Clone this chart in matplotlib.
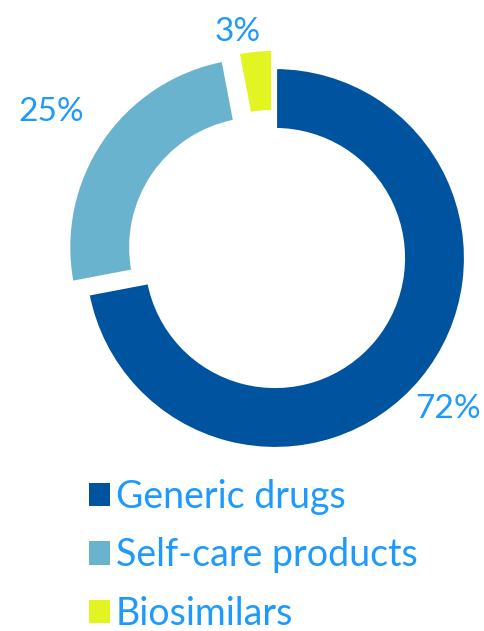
import numpy as np
import matplotlib
matplotlib.use('Agg')
import matplotlib.pyplot as plt
from matplotlib.patches import Patch

categories = ['Generic drugs', 'Self-care products', 'Biosimilars']
shares = [72, 25, 3]
colors = ['#00549F', '#6AB3CF', '#E2F522']
explode = [0.0, 0.1, 0.095]
label_dist = [1.20, 1.40, 1.20]
label_shift = [-1.5, 1, 4]   # degrees, nudges the % text off the mid-angle
text_color = '#1E9AFF'

plt.rcParams['font.family'] = ['Lato', 'DejaVu Sans']

fig = plt.figure(figsize=(4.85, 6.31), dpi=100)
W, H = 485, 631
R = 191  # outer radius in pixels
cx, cy = 275, 631 - 258
span = 1.3
ax = fig.add_axes([(cx - span * R) / W, (cy - span * R) / H,
                   2 * span * R / W, 2 * span * R / H])

wedges, _ = ax.pie(shares, colors=colors, startangle=90, counterclock=False,
                   explode=explode, radius=1.0,
                   wedgeprops=dict(width=0.33, edgecolor='white', linewidth=3))
ax.set_xlim(-span, span)
ax.set_ylim(-span, span)
ax.set_aspect('equal')
ax.axis('off')

for w, s, d, sh in zip(wedges, shares, label_dist, label_shift):
    mid = np.deg2rad((w.theta1 + w.theta2) / 2 + sh)
    ax.text(d * np.cos(mid), d * np.sin(mid), f'{s}%', ha='center', va='center',
            fontsize=24, color=text_color)

handles = [Patch(facecolor=c, edgecolor='none') for c in colors]
leg = fig.legend(handles, categories, loc='upper left',
                 bbox_to_anchor=(70 / W, 1 - 460 / H), frameon=False,
                 fontsize=27, handlelength=0.57, handleheight=0.57,
                 handletextpad=0.15, labelspacing=0.6, borderpad=0)
for t in leg.get_texts():
    t.set_color(text_color)

fig.savefig('out.png', dpi=100)
